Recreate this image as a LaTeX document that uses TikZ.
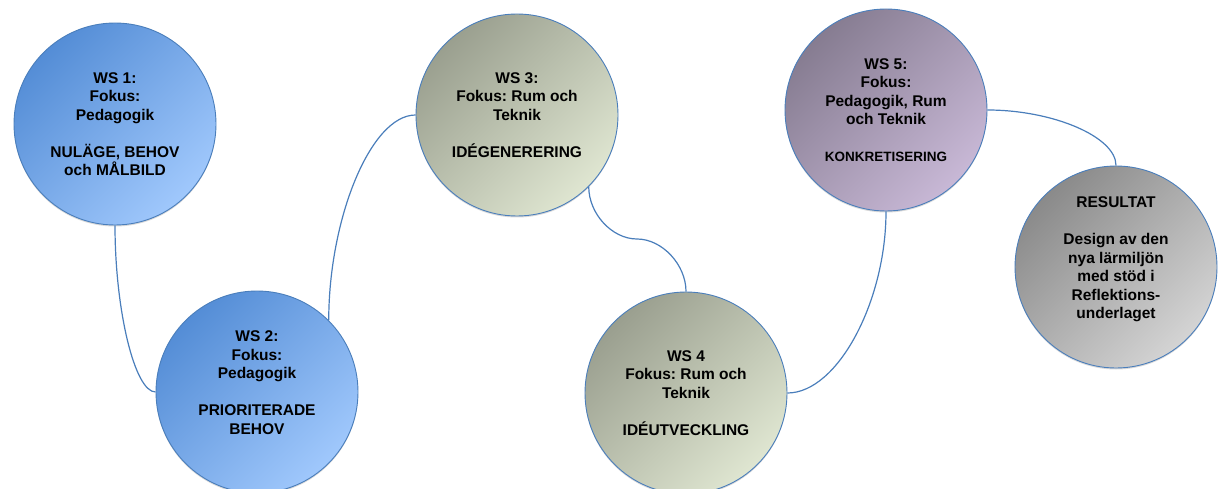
\documentclass[tikz,border=0pt]{standalone}
\usepackage{fontspec}
\setmainfont{Liberation Sans}
\frenchspacing
\usetikzlibrary{shapes,shadows}
\definecolor{wsline}{RGB}{74,126,187}
\definecolor{blueA}{RGB}{84,141,214}
\definecolor{blueB}{RGB}{160,200,252}
\definecolor{greenA}{RGB}{154,159,143}
\definecolor{greenB}{RGB}{223,230,209}
\definecolor{purpleA}{RGB}{134,124,145}
\definecolor{purpleB}{RGB}{200,184,214}
\definecolor{greyA}{RGB}{138,138,138}
\definecolor{greyB}{RGB}{212,212,212}
\tikzstyle{ws}=[circle,draw=wsline,line width=.9pt,minimum size=202pt,inner sep=0pt,
align=center,font=\bfseries\fontsize{15.5}{18.5}\selectfont,
drop shadow={shadow xshift=0pt,shadow yshift=-1.5pt,opacity=.3}]
\tikzstyle{blueball}=[ws,top color=blueA,bottom color=blueB,shading angle=45]
\tikzstyle{greenball}=[ws,top color=greenA,bottom color=greenB,shading angle=45]
\tikzstyle{purpleball}=[ws,top color=purpleA,bottom color=purpleB,shading angle=45]
\tikzstyle{greyball}=[ws,top color=greyA,bottom color=greyB,shading angle=45]
\tikzstyle{line}=[wsline,line width=1.2pt]

\begin{document}
\begin{tikzpicture}[x=1pt,y=1pt]
	\useasboundingbox (0,0) rectangle (1218,488);

	% workshops
	\node[blueball] (ws1) at (115,364) {WS 1:\\Fokus:\\Pedagogik\\[18.5pt]NULÄGE, BEHOV\\och MÅLBILD};
	\node[blueball] (ws2) at (257,96) {WS 2:\\Fokus:\\Pedagogik\\[18.5pt]PRIORITERADE\\BEHOV\\ \mbox{}};
	\node[greenball] (ws3) at (517,373) {WS 3:\\Fokus: Rum och\\Teknik\\[18.5pt]IDÉGENERERING};
	\node[greenball] (ws4) at (686,95) {WS 4\\Fokus: Rum och\\Teknik\\[18.5pt]IDÉUTVECKLING};
	\node[purpleball] (ws5) at (886,378) {WS 5:\\Fokus:\\Pedagogik, Rum\\och Teknik\\[18.5pt]{\fontsize{13.5}{18.5}\selectfont KONKRETISERING}};
	\node[greyball] (res) at (1116,221) {RESULTAT\\[18.5pt]Design av den\\nya lärmiljön\\med stöd i\\Reflektions-\\underlaget\\ \mbox{}};

	%connectors
	\coordinate (mid34) at (637,249);
	\draw[line] (ws1.south) to[out=-90,in=180,out distance=84,in distance=21] (ws2.west);
	\draw[line] (ws2.45) to[out=90,in=180,out distance=101,in distance=45] (ws3.west);
	\draw[line] (ws3.-45) to[out=-90,in=180,out distance=27,in distance=25] (mid34)
		to[out=0,in=90,out distance=25,in distance=27] (ws4.north);
	\draw[line] (ws4.east) to[out=0,in=-90,out distance=50,in distance=90] (ws5.south);
	\draw[line] (ws5.east) to[out=0,in=90,out distance=65,in distance=29] (res.north);
\end{tikzpicture}
\end{document}
